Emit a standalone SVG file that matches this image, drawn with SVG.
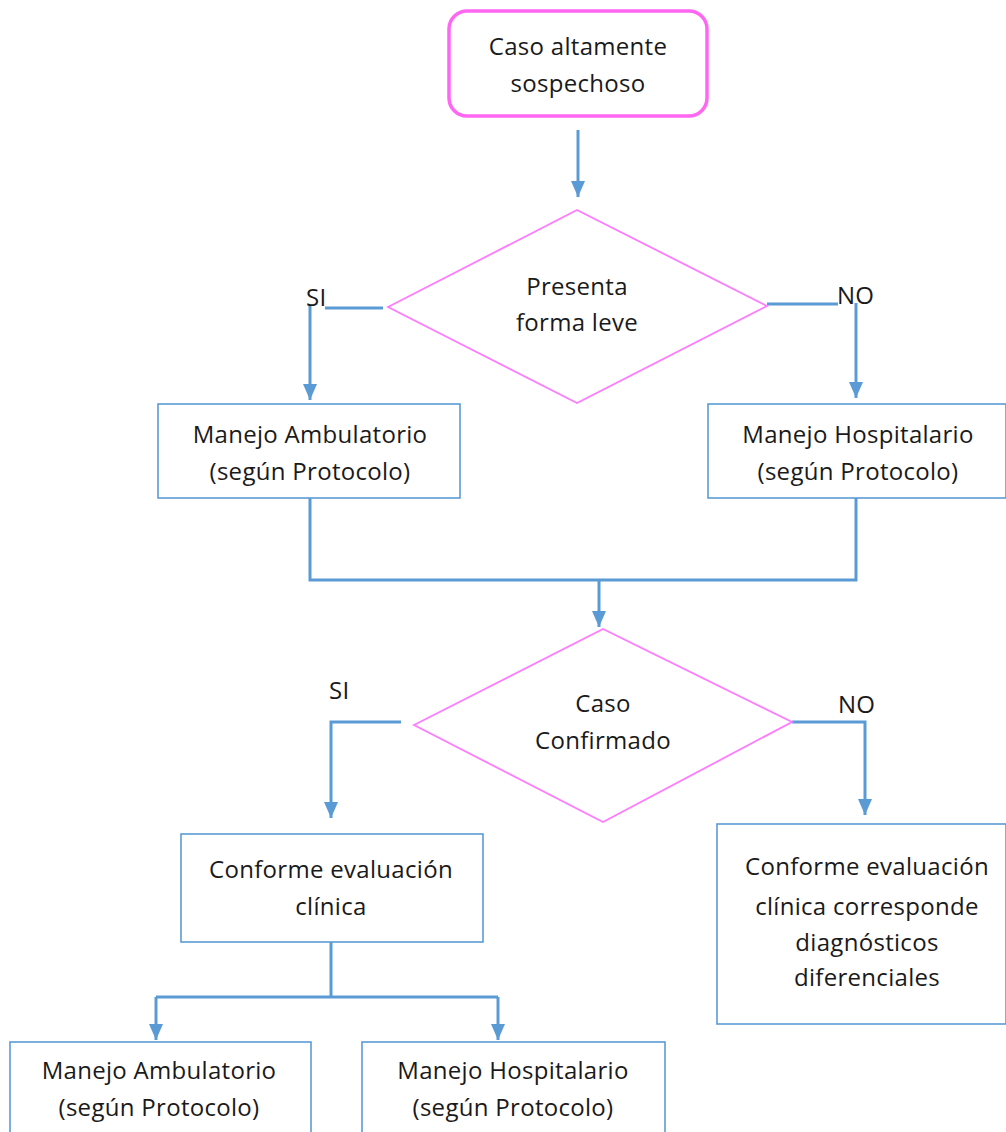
<svg xmlns="http://www.w3.org/2000/svg" width="1006" height="1132" viewBox="0 0 1006 1132">
<style>
text{font-family:"Open Sans","Liberation Sans",sans-serif;font-size:24px;letter-spacing:0.3px;fill:#1a1a1a;text-anchor:middle}
.lbl{text-anchor:start}
.box{fill:#fff;stroke:#5b9bd5;stroke-width:1.6}
.dia{fill:#fff;stroke:#ff7bff;stroke-width:1.8}
.start{fill:#fff;stroke:#ff66f2;stroke-width:3.5}
.con{fill:none;stroke:#5b9bd5;stroke-width:3}
</style>
<defs>
<marker id="arr" markerUnits="userSpaceOnUse" markerWidth="16" markerHeight="14" refX="16" refY="7" orient="auto" viewBox="0 0 16 14">
<path d="M0,0 L16,7 L0,14 Z" fill="#5b9bd5"/>
</marker>
</defs>
<rect width="1006" height="1132" fill="#fff"/>
<g id="connectors">
<path class="con" d="M578,130 V197" marker-end="url(#arr)"/>
<path class="con" d="M383,308 H325"/>
<path class="con" d="M310,305 V400" marker-end="url(#arr)"/>
<path class="con" d="M767,304 H838"/>
<path class="con" d="M856,303 V398" marker-end="url(#arr)"/>
<path class="con" d="M310,498 V580 H856 V498"/>
<path class="con" d="M599,580 V627" marker-end="url(#arr)"/>
<path class="con" d="M401,722 H331 V818" marker-end="url(#arr)"/>
<path class="con" d="M792,722 H865 V815" marker-end="url(#arr)"/>
<path class="con" d="M331,942 V997"/>
<path class="con" d="M156,997 H498"/>
<path class="con" d="M156,997 V1040" marker-end="url(#arr)"/>
<path class="con" d="M498,997 V1040" marker-end="url(#arr)"/>
</g>
<g id="n-start">
<rect class="start" x="449" y="11" width="258" height="105" rx="18"/>
<text x="578" y="55">Caso altamente</text>
<text x="578" y="92">sospechoso</text>
</g>
<g id="n-leve">
<polygon class="dia" points="388,307 577,210 767,306 577,403"/>
<text x="577" y="295">Presenta</text>
<text x="577" y="331">forma leve</text>
</g>
<g id="lbl-si1"><text class="lbl" x="306" y="306">SI</text></g>
<g id="lbl-no1"><text class="lbl" x="837" y="304">NO</text></g>
<g id="n-amb1">
<rect class="box" x="158" y="404" width="302" height="94"/>
<text x="310" y="443">Manejo Ambulatorio</text>
<text x="310" y="480">(según Protocolo)</text>
</g>
<g id="n-hosp1">
<rect class="box" x="708" y="404" width="298" height="94"/>
<text x="858" y="443">Manejo Hospitalario</text>
<text x="858" y="480">(según Protocolo)</text>
</g>
<g id="n-conf">
<polygon class="dia" points="414,725 603,629 792,722 603,822"/>
<text x="603" y="712">Caso</text>
<text x="603" y="749">Confirmado</text>
</g>
<g id="lbl-si2"><text class="lbl" x="329" y="699">SI</text></g>
<g id="lbl-no2"><text class="lbl" x="838" y="713">NO</text></g>
<g id="n-eval">
<rect class="box" x="181" y="834" width="302" height="108"/>
<text x="331" y="878">Conforme evaluación</text>
<text x="331" y="915">clínica</text>
</g>
<g id="n-dif">
<rect class="box" x="717" y="824" width="289" height="200"/>
<text x="867" y="875">Conforme evaluación</text>
<text x="867" y="915">clínica corresponde</text>
<text x="867" y="951">diagnósticos</text>
<text x="867" y="986">diferenciales</text>
</g>
<g id="n-amb2">
<rect class="box" x="10" y="1042" width="301" height="100"/>
<text x="159" y="1079">Manejo Ambulatorio</text>
<text x="159" y="1116">(según Protocolo)</text>
</g>
<g id="n-hosp2">
<rect class="box" x="362" y="1042" width="303" height="100"/>
<text x="513" y="1079">Manejo Hospitalario</text>
<text x="513" y="1116">(según Protocolo)</text>
</g>
</svg>
